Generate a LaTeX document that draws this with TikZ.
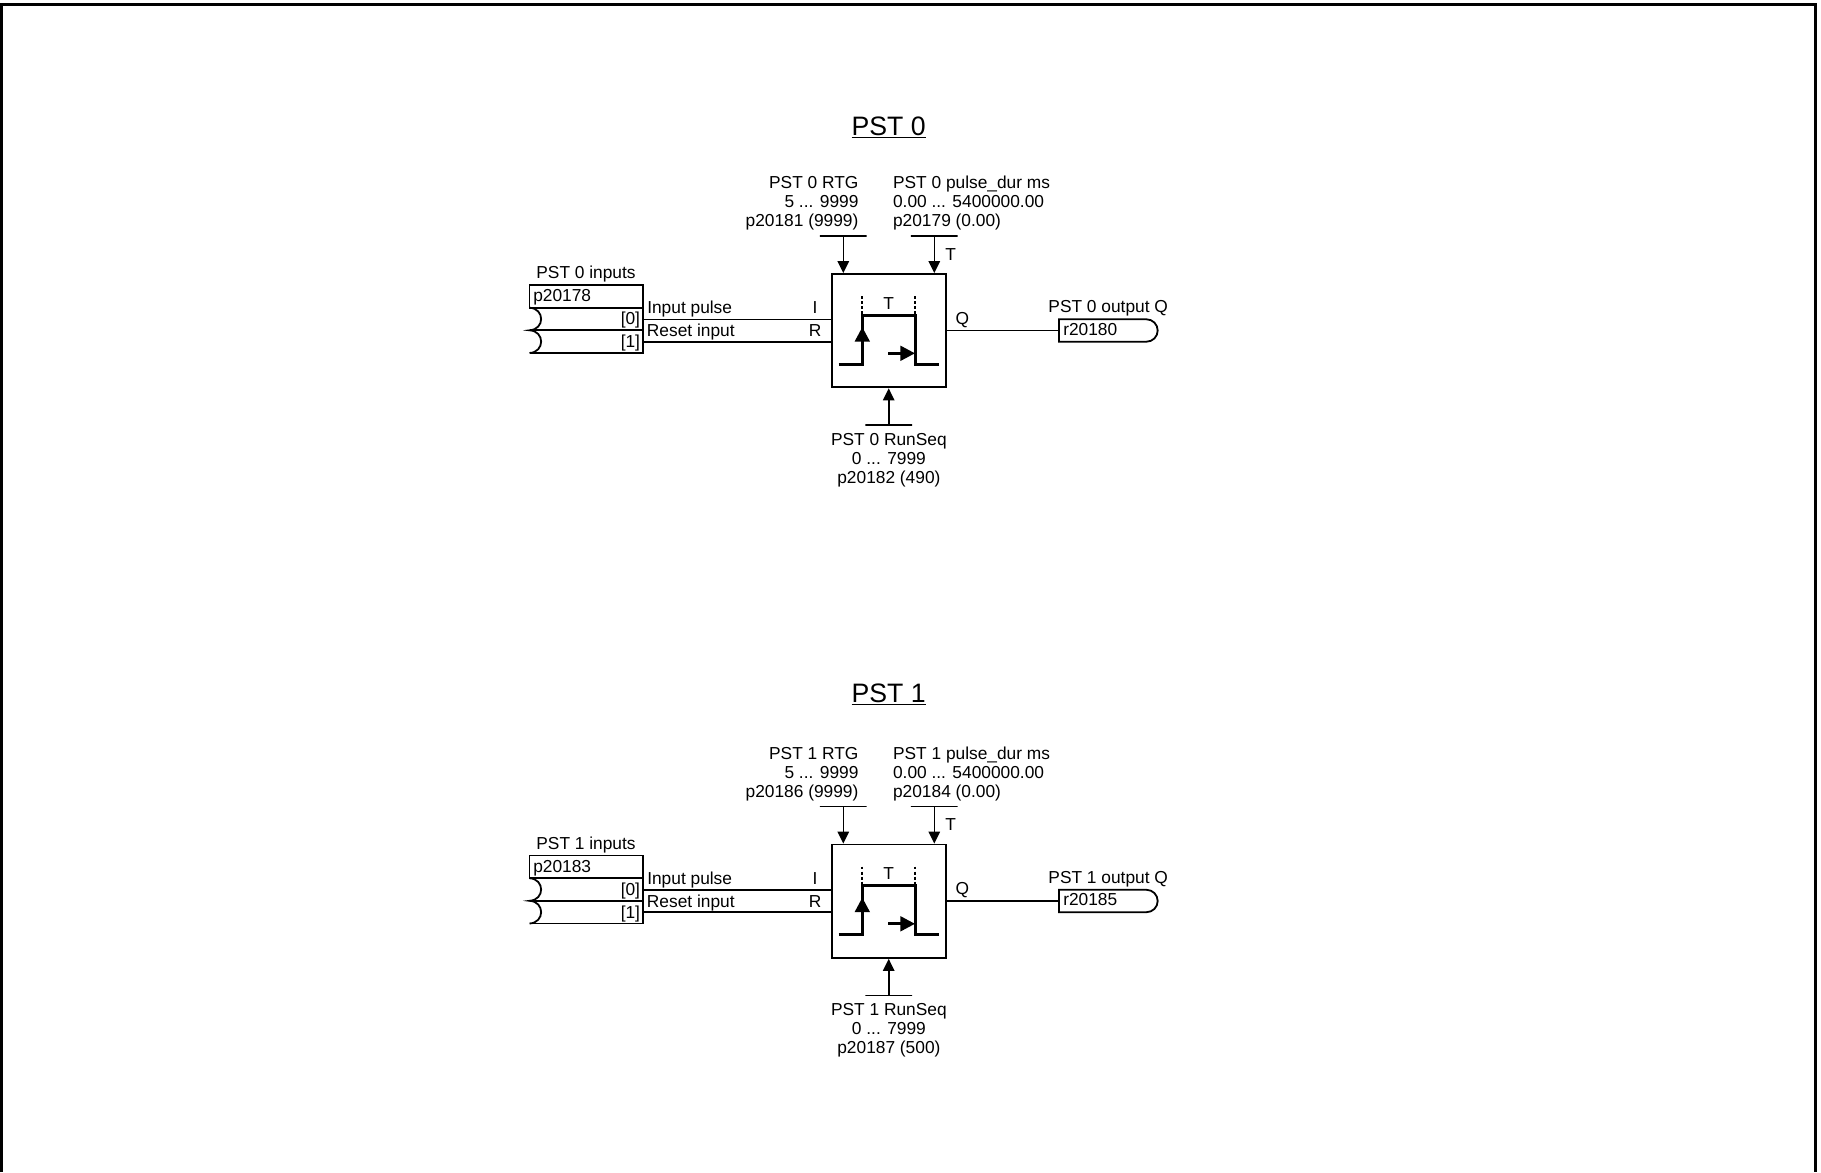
\documentclass[tikz,border=0pt]{standalone}
\usepackage{fontspec}
\setmainfont{Liberation Sans}
\usetikzlibrary{arrows.meta}

\begin{document}
\begin{tikzpicture}[x=0.75pt,y=-0.75pt,
        txt/.style={inner sep=0pt,font=\fontsize{13}{14.25}\selectfont},
        headtxt/.style={inner sep=0pt,font=\fontsize{20}{24}\selectfont},
        block/.style={draw,line width=1.4pt,minimum width=85.3pt,minimum height=85pt,inner sep=0pt},
        bar/.style={draw,line width=1.2pt,minimum width=35pt,minimum height=0pt,inner sep=0pt},
        conn/.style={line width=1.2pt},
        sig/.style={line width=1.2pt,-{Triangle[length=9pt,width=8.5pt]}},
        pulse/.style={line width=2.4pt},
        boxline/.style={line width=1.35pt},
        dots/.style={line width=1.3pt,dash pattern=on 2.2pt off 1.6pt},
        pulsetip/.style={line width=2.2pt,-{Triangle[length=11pt,width=11pt]}}]

    \useasboundingbox (0,0) rectangle (1821,1172);
    \draw[line width=2.6pt] (1.5,1172) -- (1.5,4.5) -- (1815.5,4.5) -- (1815.5,1172);

    \foreach \n/\dy/\hy/\pin/\pdur/\rout/\prtg/\prun/\drun in
        {0/0/135/20178/20179/20180/20181/20182/490,1/570.5/131.7/20183/20184/20185/20186/20187/500} {
    \begin{scope}[shift={(0,\dy)}]
    \node[headtxt,anchor=base] (head\n) at (888.7,\hy) {\underline{PST \n}};

    \node[block] (fn\n) at (889,330.7) {};

    % parameters above and below
    \node[bar] (rtg\n) at (843.3,236) {};
    \node[bar] (dur\n) at (934.3,236) {};
    \node[bar] (run\n) at (888.7,425) {};
    \draw[sig] (rtg\n) -- (rtg\n |- fn\n.north);
    \draw[sig] (dur\n) -- (dur\n |- fn\n.north);
    \draw[sig] (run\n) -- (run\n |- fn\n.south);
    \node[txt,align=right,anchor=south east] (rtgtxt\n) at (858.7,230.6) {PST \n\ RTG\\5 ... 9999\\p\prtg\ (9999)};
    \node[txt,align=left,anchor=south west] (durtxt\n) at (892.8,230.6) {PST \n\ pulse\_dur ms\\0.00 ... 5400000.00\\p\pdur\ (0.00)};
    \node[txt,align=center,anchor=south] (runtxt\n) at (888.9,487.2) {PST \n\ RunSeq\\0 ... 7999\\p\prun\ (\drun)};
    \node[txt,anchor=base] (t\n) at (950.7,260.2) {T};

    % input list
    \coordinate (ina\n) at (643.3,319.3);
    \coordinate (inb\n) at (643.3,341.7);
    \draw[boxline] (529.5,285) rectangle (643.3,307.7);
    \draw[boxline] (529.5,307.7) -- (643.3,307.7) -- (643.3,353) -- (529.5,353);
    \draw[boxline] (529.5,330.3) -- (643.3,330.3);
    \draw[boxline] (529.5,307.7) .. controls (545,308.5) and (545,329.5) .. (529.5,330.3)
        .. controls (545,331) and (545,352.2) .. (529.5,353);
    \node[txt,anchor=base] (intxt\n) at (586,278.5) {PST \n\ inputs};
    \node[txt,anchor=base west] (par\n) at (533,301.9) {p\pin};
    \node[txt,anchor=base east] (ida\n) at (640.3,324.7) {[0]};
    \node[txt,anchor=base east] (idb\n) at (640.3,347.9) {[1]};
    \draw[conn] (ina\n) -- (ina\n -| fn\n.west);
    \draw[conn] (inb\n) -- (inb\n -| fn\n.west);
    \node[txt,anchor=base west] (pul\n) at (647,313.5) {Input pulse};
    \node[txt,anchor=base west] (rst\n) at (646.7,336.9) {Reset input};
    \node[txt,anchor=base] (i\n) at (815,313.5) {I};
    \node[txt,anchor=base] (r\n) at (815,336.9) {R};

    % pulse symbol
    \draw[pulse] (838.7,364.3) -- (862.3,364.3) -- (862.3,315.3) -- (915.3,315.3) -- (915.3,364.3) -- (939,364.3);
    \draw[dots] (862.3,296) -- (862.3,315.3);
    \draw[dots] (915.3,296) -- (915.3,315.3);
    \draw[pulsetip] (862.3,350) -- (862.3,327);
    \draw[pulsetip] (888,353.3) -- (915,353.3);
    \node[txt,anchor=base] (tin\n) at (888.7,309.3) {T};

    % output
    \node[txt,anchor=base] (q\n) at (962.3,324.2) {Q};
    \coordinate (out\n) at (1059,330.5);
    \draw[conn] (fn\n.east |- out\n) -- (out\n);
    \draw[boxline] (1146.5,319.3) -- (1059,319.3) -- (1059,341.7) -- (1146.5,341.7)
        arc[start angle=90,end angle=-90,radius=11.2];
    \node[txt,anchor=base west] (rv\n) at (1063,335.2) {r\rout};
    \node[txt,anchor=base] (outtxt\n) at (1108.2,312.6) {PST \n\ output Q};
    \end{scope}
    }
\end{tikzpicture}
\end{document}
